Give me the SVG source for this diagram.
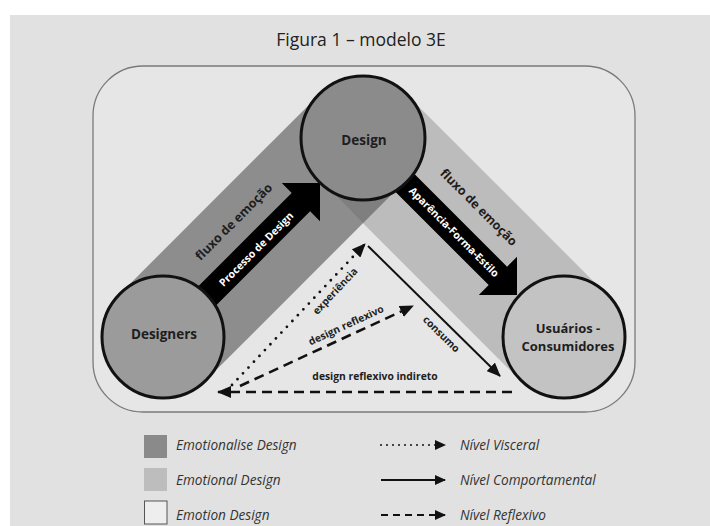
<svg xmlns="http://www.w3.org/2000/svg" width="710" height="526" viewBox="0 0 710 526">
  <style>
    .t { font-family: "Open Sans", Lato, "Liberation Sans", sans-serif; font-weight: bold; fill: #1e1e1e; }
    .w { font-family: "Open Sans", Lato, "Liberation Sans", sans-serif; font-weight: bold; fill: #ffffff; }
    .leg { font-family: "Open Sans", Lato, "Liberation Sans", sans-serif; font-style: italic; font-size: 13.6px; fill: #333333; }
    .node { stroke: #111111; stroke-width: 3; }
    .ln { fill: none; stroke: #111111; }
  </style>
  <defs>
    <marker id="ah" markerUnits="userSpaceOnUse" markerWidth="14" markerHeight="12" refX="13" refY="6" orient="auto">
      <path d="M0,0 L14,6 L0,12 z" fill="#111111"/>
    </marker>
    <marker id="ahs" markerUnits="userSpaceOnUse" markerWidth="11" markerHeight="10" refX="10" refY="5" orient="auto">
      <path d="M0,0 L11,5 L0,10 z" fill="#111111"/>
    </marker>
  </defs>

  <rect x="0" y="0" width="710" height="526" fill="#ffffff"/>
  <rect x="10" y="15" width="700" height="511" fill="#e1e1e1"/>
  <text x="361" y="46" font-family="'Open Sans', Lato, sans-serif" font-size="17.5" fill="#222222" text-anchor="middle">Figura 1 – modelo 3E</text>

  <rect id="frame" x="93" y="66" width="542" height="346" rx="50" ry="50" fill="#e6e6e6" stroke="#7a7a7a" stroke-width="1.3"/>

  <g id="bands">
    <polygon points="119.9,293.9 319.9,93.9 406.1,180.1 206.1,380.1" fill="#8d8d8d"/>
    <polygon points="319.9,180.1 406.1,93.9 606.1,293.9 519.9,380.1" fill="#bcbcbc"/>
    <polygon points="363,137 406.1,180.1 363,223.2 319.9,180.1" fill="#7f7f7f"/>
    <text class="t" font-size="12.5" text-anchor="middle" transform="translate(234,222) rotate(-45)" y="4">fluxo de emoção</text>
    <text class="t" font-size="12.5" text-anchor="middle" transform="translate(478.5,207.5) rotate(45)" y="4">fluxo de emoção</text>
  </g>

  <g id="connectors">
    <g id="processo">
      <polygon points="155.8,328.8 291.7,192.9 281.8,183 320,183 320,221.2 310.1,211.3 174.2,347.2" fill="#000000"/>
      <text class="w" font-size="10.5" text-anchor="middle" transform="translate(256,249) rotate(-45)" y="4">Processo de Design</text>
    </g>
    <g id="aparencia">
      <polygon points="374.2,133.8 507.1,266.7 517,256.8 517,295 478.8,295 488.7,285.1 355.8,152.2" fill="#000000"/>
      <text class="w" font-size="10.5" text-anchor="middle" transform="translate(454,232) rotate(45)" y="3.7">Aparência-Forma-Estilo</text>
    </g>
    <g id="experiencia">
      <line class="ln" x1="232" y1="385" x2="365" y2="244" stroke-width="2.8" stroke-dasharray="0 8" stroke-linecap="round" marker-end="url(#ah)"/>
      <text class="t" font-size="10.3" text-anchor="middle" transform="translate(335,291) rotate(-46.7)" y="3.7">experiência</text>
    </g>
    <g id="consumo">
      <line class="ln" x1="368" y1="246" x2="500" y2="376" stroke-width="2" marker-end="url(#ah)"/>
      <text class="t" font-size="10.3" text-anchor="middle" transform="translate(441.5,334) rotate(44.6)" y="3.7">consumo</text>
    </g>
    <g id="reflexivo">
      <line class="ln" x1="240" y1="386" x2="413" y2="306" stroke-width="2.6" stroke-dasharray="10 6" marker-end="url(#ah)"/>
      <text class="t" font-size="10.3" text-anchor="middle" transform="translate(346,325) rotate(-24.8)" y="3.7">design reflexivo</text>
    </g>
    <g id="indireto">
      <line class="ln" x1="512" y1="392" x2="218" y2="392" stroke-width="2.6" stroke-dasharray="10 6" marker-end="url(#ah)"/>
      <text class="t" font-size="10.3" text-anchor="middle" x="375" y="380">design reflexivo indireto</text>
    </g>
  </g>

  <g id="node-design">
    <circle class="node" cx="363" cy="138" r="62" fill="#8b8b8b"/>
    <text class="t" font-size="13.5" text-anchor="middle" x="364" y="145">Design</text>
  </g>
  <g id="node-designers">
    <circle class="node" cx="163" cy="337" r="61" fill="#9b9b9b"/>
    <text class="t" font-size="13.5" text-anchor="middle" x="164" y="339">Designers</text>
  </g>
  <g id="node-usuarios">
    <circle class="node" cx="564" cy="337" r="61" fill="#c3c3c3"/>
    <text class="t" font-size="13" text-anchor="middle" x="568" y="333">Usuários -</text>
    <text class="t" font-size="13" text-anchor="middle" x="568" y="351">Consumidores</text>
  </g>

  <g id="legend">
    <rect x="144" y="435" width="23" height="23" fill="#8a8a8a"/>
    <rect x="144" y="468" width="23" height="23" fill="#bdbdbd"/>
    <rect x="144.5" y="501" width="22.5" height="23" fill="#eeeeee" stroke="#555555" stroke-width="1"/>
    <text class="leg" x="176" y="450">Emotionalise Design</text>
    <text class="leg" x="176" y="485">Emotional Design</text>
    <text class="leg" x="176" y="520">Emotion Design</text>
    <line class="ln" x1="381" y1="445" x2="445" y2="445" stroke-width="2" stroke-dasharray="0 6" stroke-linecap="round" marker-end="url(#ahs)"/>
    <line class="ln" x1="381" y1="480" x2="445" y2="480" stroke-width="1.8" marker-end="url(#ahs)"/>
    <line class="ln" x1="381" y1="515" x2="445" y2="515" stroke-width="2" stroke-dasharray="7 5" marker-end="url(#ahs)"/>
    <text class="leg" x="460" y="450">Nível Visceral</text>
    <text class="leg" x="460" y="485">Nível Comportamental</text>
    <text class="leg" x="460" y="520">Nível Reflexivo</text>
  </g>
</svg>
